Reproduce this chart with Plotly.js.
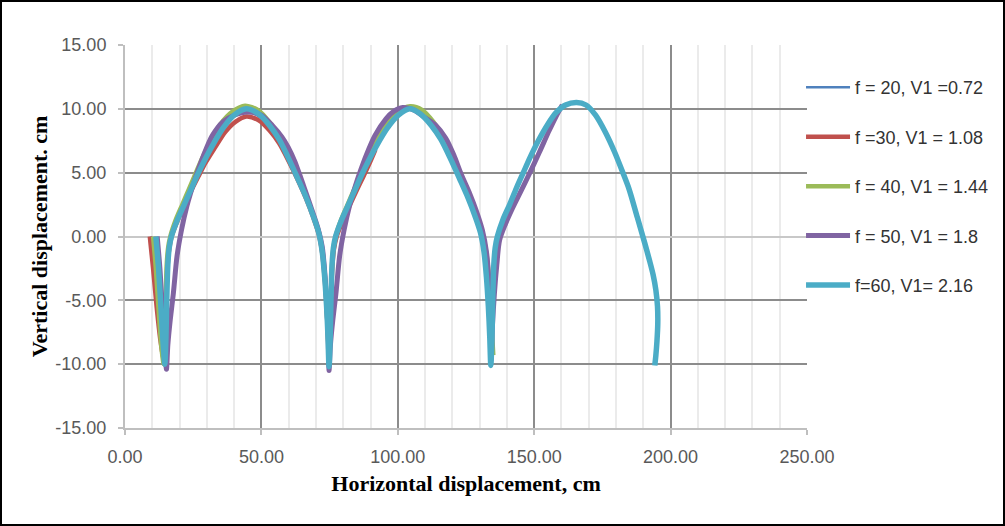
<!DOCTYPE html>
<html><head><meta charset="utf-8">
<script src="https://cdn.plot.ly/plotly-3.0.1.min.js"></script>
<style>
html,body{margin:0;padding:0;background:#fff;}
#wrap{position:relative;width:1005px;height:526px;}
#chart{width:1005px;height:526px;}
#frame{position:absolute;left:0;top:0;width:1005px;height:526px;box-sizing:border-box;border:2px solid #000;pointer-events:none;}
</style>
</head><body>
<div id="wrap"><div id="chart"></div><div id="frame"></div></div>
<script>
// Series names
const seriesNames = ["f = 20, V1 =0.72", "f =30, V1 = 1.08", "f = 40, V1 = 1.44", "f = 50, V1 = 1.8", "f=60, V1= 2.16"];

// f = 20 (mostly hidden under the others)
const x20 = [9.6,10.8,12.0,13.2,14.3,14.7,15.1,15.5,16.0,16.9,18.9,21.3,23.8,26.3,28.8,31.8,35.8,40,44.5,49,53,56.5,60,63.4,66.5,69,71,72.3,73.2,73.9,74.4,74.7];
const y20 = [0,-2.5,-5.5,-8,-9.8,-7.8,-5,-2.3,-0.9,0,1.2,2.4,3.6,4.8,5.9,7.1,8.5,9.4,9.8,9.4,8.5,7.4,6.0,4.4,2.9,1.5,0.2,-1.3,-3.3,-5.5,-7.8,-9.6];

// f = 30
const x30 = [9.1,10.3,11.6,12.9,14.2,14.7,15.1,15.6,16.2,17.1,19.2,21.7,24.3,26.9,29.6,32.8,36.8,40.6,44.5,49,53,56.5,60,63.4,66.5,69,71,72.3,73.2,73.9,74.4,74.7,75.1,75.5,76.0,76.6,77.6,79.8,82.3,84.9,87.4,89.8,91.8];
const y30 = [0,-2.5,-5.5,-8,-9.6,-7.5,-5,-2.4,-1.0,0,1.2,2.4,3.6,4.7,5.8,6.9,8.2,9.0,9.4,9.1,8.3,7.3,5.9,4.4,2.9,1.5,0.2,-1.3,-3.3,-5.5,-7.6,-9.3,-7.5,-5,-2.4,-1.0,0,1.2,2.4,3.6,4.7,5.8,6.8];

// f = 40
const x40 = [10.3,11.3,12.4,13.4,14.2,14.6,14.9,15.3,15.8,16.6,18.6,21.0,23.4,25.8,28.2,31.2,35,39.5,44,48.8,52.8,56.5,60.2,63.6,66.7,69.1,71.1,72.4,73.3,73.9,74.4,74.8,75.2,75.5,75.9,76.4,77.2,79.2,81.6,84.0,86.4,88.8,91.8,95.6,100,104.5,109,113,116.7,120.3,123.6,126.6,129,131,132.4,133.4,134.1,134.6,135];
const y40 = [0,-2.5,-6,-8.8,-10,-8,-5,-2.2,-0.9,0,1.3,2.5,3.7,4.9,6.1,7.4,8.8,9.8,10.25,9.9,9.0,7.8,6.2,4.6,3.0,1.6,0.3,-1.2,-3.2,-5.5,-7.8,-9.8,-8,-5,-2.2,-0.9,0,1.3,2.5,3.7,4.9,6.1,7.4,8.8,9.8,10.2,9.9,9.0,7.8,6.2,4.6,3.0,1.6,0.3,-1.2,-3.2,-5.5,-7.8,-9.3];

// f = 50
const x50 = [11.8,12.8,13.8,14.7,15.2,15.7,16.6,17.7,19.1,20.7,22.7,24.9,26.8,28.7,32,36,40,45,50,54,57.5,59.8,62.2,64.1,65.9,68.5,70.8,72.3,73.3,74,74.5,74.8,75.3,76.2,77.3,78.7,80.3,82.3,84.5,86.4,88.3,91.6,95.6,98.5,101.8,106,110,114,117.6,120.5,123.2,126.3,128.8,131,132.5,133.4,133.9,134.2,134.7,135.4,136.3,137.3,139.5,142,145,148.2,151.9,155.5,158,160.3];
const y50 = [0,-2.5,-6,-9,-10.4,-8.5,-6.5,-4.5,-1.5,0.5,2.4,4.0,5.2,6.3,7.9,9.0,9.5,9.75,9.5,8.7,7.8,7.0,5.9,4.8,3.7,2.1,0.6,-0.8,-3,-5.5,-8,-10.5,-8.5,-6.5,-4.5,-1.5,0.5,2.4,4.0,5.2,6.3,7.9,9.2,9.8,10.1,9.9,9.3,8.7,7.7,6.4,4.9,3.4,2.0,0.5,-1.2,-3.5,-6.5,-9.7,-7,-4.5,-2.2,-0.3,1.0,2.2,3.5,4.9,6.6,8.3,9.4,10.3];

// f = 60
const x60 = [11.3,12.3,13.3,14.1,14.6,15.0,15.3,15.7,16.2,17.0,19.0,21.5,24.0,26.5,29.0,32.0,36.0,40.0,44.5,49.0,53.0,56.5,60.0,63.4,66.5,69.0,71.0,72.3,73.2,73.9,74.4,74.8,75.2,75.5,75.9,76.4,77.2,79.2,81.7,84.2,86.7,89.2,92.2,96.2,100.2,104.4,108.3,112.3,115.8,119.3,122.7,125.8,128.3,130.3,131.6,132.5,133.2,133.7,134.1,134.5,134.8,135.2,135.7,136.5,138.5,141.0,143.5,146.0,148.5,151.5,155,158,161.5,165.5,169,172.5,176,179.5,182.5,184.8,187.8,190.5,192.3,193.6,194.6,195.2,195.3,195.0,194.6,194.2];
const y60 = [0,-2.5,-6,-8.8,-10,-8,-5,-2.2,-0.9,0,1.2,2.4,3.6,4.8,5.9,7.1,8.5,9.5,10.0,9.6,8.7,7.6,6.1,4.5,3.0,1.6,0.3,-1.2,-3.2,-5.5,-7.8,-10.2,-8,-5,-2.2,-0.9,0,1.2,2.4,3.6,4.8,5.9,7.1,8.5,9.5,10.0,9.6,8.7,7.6,6.1,4.5,3.0,1.6,0.3,-1.2,-3.2,-5.5,-7.8,-10.1,-8,-5,-2.2,-0.9,0,1.3,2.5,3.8,5.0,6.2,7.5,8.8,9.7,10.3,10.5,10.3,9.5,8.2,6.6,5.0,3.7,1.5,-0.5,-1.9,-3.0,-4.2,-5.5,-6.8,-8.2,-9.3,-10.1];

// Tick labels
const xTickVals = [0,50,100,150,200,250];
const xTickText = ["0.00","50.00","100.00","150.00","200.00","250.00"];
const yTickVals = [-15,-10,-5,0,5,10,15];
const yTickText = ["-15.00","-10.00","-5.00","0.00","5.00","10.00","15.00"];

const colors = ["#4F81BD","#C0504D","#9BBB59","#8064A2","#4BACC6"];
const widths = [2.5,4.5,4.5,5,5.5];
const xs = [x20,x30,x40,x50,x60];
const ys = [y20,y30,y40,y50,y60];

const traces = xs.map((x,i)=>({
  type:'scatter', mode:'lines', x:x, y:ys[i], name:seriesNames[i],
  legendgroup:'g'+i,
  line:{color:colors[i], width:widths[i], shape:'spline', smoothing:0.8}
}));

const tickFont = {family:'Liberation Sans, Arial, sans-serif', size:18, color:'#595959'};
const titleFont = {family:'Liberation Serif, Times New Roman, serif', size:22, color:'#000', weight:'bold'};

const layout = {
  width:1005, height:526,
  margin:{l:125, r:197, t:45, b:98},
  paper_bgcolor:'#fff', plot_bgcolor:'#fff',
  showlegend:true,
  xaxis:{
    range:[0,250], tickvals:xTickVals, ticktext:xTickText,
    showgrid:true, gridcolor:'#8C8C8C', gridwidth:2,
    minor:{dtick:10, tick0:0, showgrid:true, gridcolor:'#EBEBEB', gridwidth:2},
    showline:true, linecolor:'#BFBFBF', linewidth:2,
    ticks:'outside', ticklen:5, tickwidth:2, tickcolor:'#BFBFBF',
    zeroline:false, tickfont:tickFont, ticklabelstandoff:6,
    title:{text:'Horizontal displacement, cm', font:titleFont, standoff:10},
    automargin:false
  },
  yaxis:{
    range:[-15,15], tickvals:yTickVals, ticktext:yTickText,
    showgrid:true, gridcolor:'#8C8C8C', gridwidth:2,
    zeroline:true, zerolinecolor:'#C8C8C8', zerolinewidth:2,
    showline:true, linecolor:'#BFBFBF', linewidth:2,
    ticks:'outside', ticklen:5, tickwidth:2, tickcolor:'#BFBFBF',
    tickfont:tickFont, ticklabelstandoff:8,
    title:{text:'Vertical displacement. cm', font:titleFont, standoff:2},
    automargin:false
  },
  legend:{
    x:0.9898, xanchor:'left', y:0.937, yanchor:'top',
    font:{family:'Liberation Sans, Arial, sans-serif', size:18, color:'#333333'},
    bgcolor:'rgba(0,0,0,0)', tracegroupgap:23, itemwidth:44
  }
};

Plotly.newPlot('chart', traces, layout, {displayModeBar:false, staticPlot:true});
</script>
</body></html>
